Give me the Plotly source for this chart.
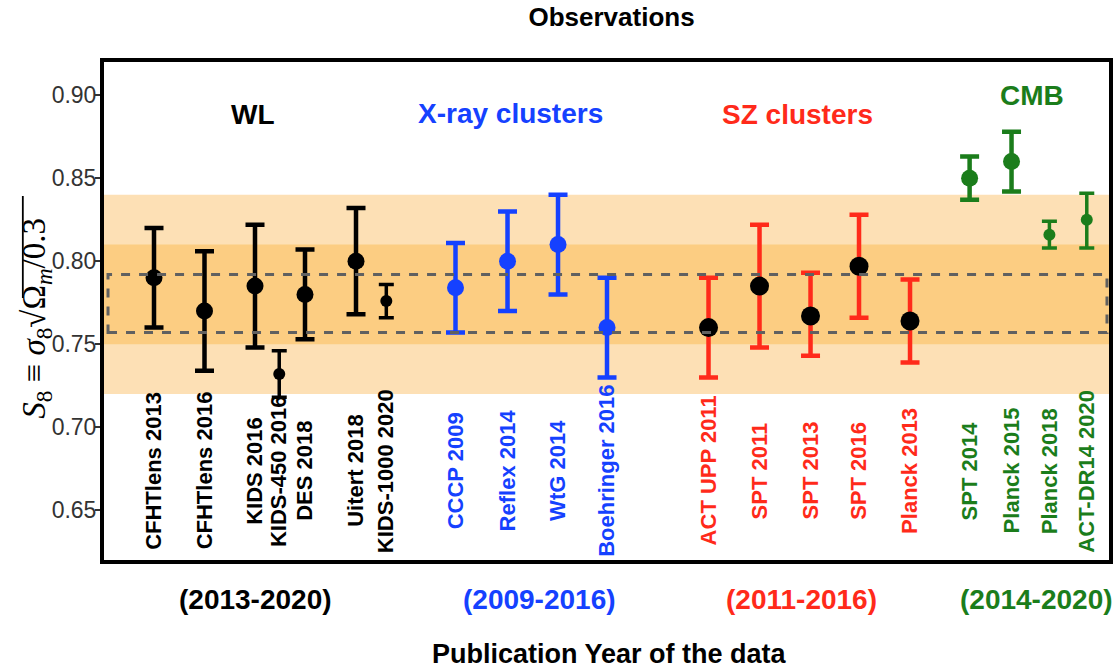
import plotly.graph_objects as go

# --- S8 measurements grouped by probe ---------------------------------
names = [
    "CFHTlens 2013", "CFHTlens 2016", "KIDS 2016", "KIDS-450 2016", "DES 2018",
    "Uitert 2018", "KIDS-1000 2020",
    "CCCP 2009", "Reflex 2014", "WtG 2014", "Boehringer 2016",
    "ACT UPP 2011", "SPT 2011", "SPT 2013", "SPT 2016", "Planck 2013",
    "SPT 2014", "Planck 2015", "Planck 2018", "ACT-DR14 2020",
]
probe = ["WL"] * 7 + ["Xray"] * 4 + ["SZ"] * 5 + ["CMB"] * 4
s8 = [0.790, 0.770, 0.785, 0.732, 0.780, 0.800, 0.776,
      0.784, 0.800, 0.810, 0.760,
      0.760, 0.785, 0.767, 0.797, 0.764,
      0.850, 0.860, 0.816, 0.825]
err_up = [0.030, 0.036, 0.037, 0.014, 0.027, 0.032, 0.010,
          0.027, 0.030, 0.030, 0.030,
          0.030, 0.037, 0.026, 0.031, 0.025,
          0.013, 0.018, 0.008, 0.016]
err_lo = [0.030, 0.036, 0.037, 0.014, 0.027, 0.032, 0.010,
          0.027, 0.030, 0.030, 0.030,
          0.030, 0.037, 0.024, 0.031, 0.025,
          0.013, 0.018, 0.008, 0.017]

group_titles = {"WL": "WL", "Xray": "X-ray clusters", "SZ": "SZ clusters", "CMB": "CMB"}
group_years = {"WL": "(2013-2020)", "Xray": "(2009-2016)", "SZ": "(2011-2016)", "CMB": "(2014-2020)"}

# reference bands: 1 and 2 sigma, plus the dashed interval
band_outer = (0.72, 0.84)
band_inner = (0.75, 0.81)
dashed_box = (0.757, 0.792)

y_ticks = [0.65, 0.70, 0.75, 0.80, 0.85, 0.90]

# --- layout helpers (horizontal slots of each entry) --------------------
slot = [0.0, 1.0, 2.0, 2.48, 2.99, 4.0, 4.6,
        5.97, 7.0, 8.0, 8.97,
        10.98, 11.99, 13.0, 13.96, 14.97,
        16.15, 16.98, 17.73, 18.47]
x_range = [-0.99, 18.91]

colors = {"WL": "#000000", "Xray": "#1541FF", "SZ": "#FF2A1A", "CMB": "#1B7D1B"}
marker_colors = {"WL": "#000000", "Xray": "#1541FF", "SZ": "#000000", "CMB": "#1B7D1B"}
small = {"KIDS-450 2016", "KIDS-1000 2020", "Planck 2018", "ACT-DR14 2020"}

title_pos = {"WL": (1.97, 0.8885), "Xray": (7.05, 0.8888), "SZ": (12.75, 0.8885), "CMB": (17.39, 0.8996)}
year_pos = {"WL": 2.0, "Xray": 7.64, "SZ": 12.83, "CMB": 17.47}

FONT = "Liberation Sans, Arial, sans-serif"
W, H = 1118, 669
M = dict(l=104, r=5, t=62, b=109)
plot_w = W - M["l"] - M["r"]
plot_h = H - M["t"] - M["b"]


def px_to_paper(px, py):
    """Convert page pixels to paper coordinates."""
    return (px - M["l"]) / plot_w, (H - M["b"] - py) / plot_h


fig = go.Figure()

for i, name in enumerate(names):
    g = probe[i]
    is_small = name in small
    fig.add_trace(go.Scatter(
        x=[slot[i]], y=[s8[i]],
        mode="markers",
        name=name,
        showlegend=False,
        marker=dict(
            color=marker_colors[g],
            size=(12 if is_small else (19 if g == "SZ" else 17)),
            line=dict(width=0),
        ),
        error_y=dict(
            type="data", symmetric=False,
            array=[err_up[i]], arrayminus=[err_lo[i]],
            color=colors[g],
            thickness=(3.5 if is_small else 4.5),
            width=(7.5 if is_small else 9.5),
        ),
    ))

# shaded bands
fig.add_shape(type="rect", xref="paper", yref="y", x0=0, x1=1,
              y0=band_outer[0], y1=band_outer[1],
              fillcolor="#FDE0B5", line=dict(width=0), layer="below")
fig.add_shape(type="rect", xref="paper", yref="y", x0=0, x1=1,
              y0=band_inner[0], y1=band_inner[1],
              fillcolor="#FCCD82", line=dict(width=0), layer="below")
# dashed interval
fig.add_shape(type="rect", xref="paper", yref="y", x0=0.004, x1=0.998,
              y0=dashed_box[0], y1=dashed_box[1],
              fillcolor="rgba(0,0,0,0)",
              line=dict(color="#606060", width=3, dash="dash"), layer="above")

# rotated entry labels
for i, name in enumerate(names):
    fig.add_annotation(
        x=slot[i], y=0.6737, xref="x", yref="y",
        text="<b>%s</b>" % name, textangle=-90, showarrow=False,
        xanchor="center", yanchor="middle",
        font=dict(family=FONT, size=22, color=colors[probe[i]]),
    )

# probe titles and year ranges
for g, txt in group_titles.items():
    fig.add_annotation(
        x=title_pos[g][0], y=title_pos[g][1], xref="x", yref="y",
        text="<b>%s</b>" % txt, showarrow=False,
        xanchor="center", yanchor="middle",
        font=dict(family=FONT, size=28, color=colors[g]),
    )
    fig.add_annotation(
        x=year_pos[g], y=-0.0803, xref="x", yref="paper",
        text="<b>%s</b>" % group_years[g], showarrow=False,
        xanchor="center", yanchor="middle",
        font=dict(family=FONT, size=28, color=colors[g]),
    )

# x-axis caption
fig.add_annotation(
    x=0.503, y=-0.189, xref="paper", yref="paper",
    text="<b>Publication Year of the data</b>", showarrow=False,
    xanchor="center", yanchor="middle",
    font=dict(family=FONT, size=27, color="black"),
)

fig.update_layout(
    width=W, height=H,
    margin=M,
    paper_bgcolor="white", plot_bgcolor="white",
    title=dict(text="<b>Observations</b>", x=0.547, xanchor="center",
               y=0.975, yanchor="middle",
               font=dict(family=FONT, size=26, color="black")),
    xaxis=dict(range=x_range, showgrid=False, zeroline=False,
               showticklabels=False, ticks="",
               showline=True, linecolor="black", linewidth=4, mirror=True),
    yaxis=dict(range=[0.62, 0.92], tickvals=y_ticks,
               ticktext=["%.2f" % v for v in y_ticks],
               showgrid=False, zeroline=False,
               ticks="outside", ticklen=5, tickwidth=1.5, tickcolor="#333333",
               ticklabelstandoff=-6,
               tickfont=dict(family=FONT, size=23, color="#333333"),
               showline=True, linecolor="black", linewidth=4, mirror=True),
)

# y-axis label (rendered as rotated annotation) with the radical's bar
fig.add_annotation(
    x=-0.0674, y=0.485, xref="paper", yref="paper",
    text="<i>S</i><sub>8</sub> ≡ <i>σ</i><sub>8</sub>√Ω<sub><i>m</i></sub>/0.3",
    textangle=-90, showarrow=False, xanchor="center", yanchor="middle",
    font=dict(family="Liberation Serif, Times New Roman, serif", size=33, color="black"),
)
bx0, by0 = px_to_paper(22.5, 298)
bx1, by1 = px_to_paper(22.5, 196)
fig.add_shape(type="line", xref="paper", yref="paper",
              x0=bx0, y0=by0, x1=bx1, y1=by1,
              line=dict(color="black", width=1.8))

fig.write_html("out.html")
